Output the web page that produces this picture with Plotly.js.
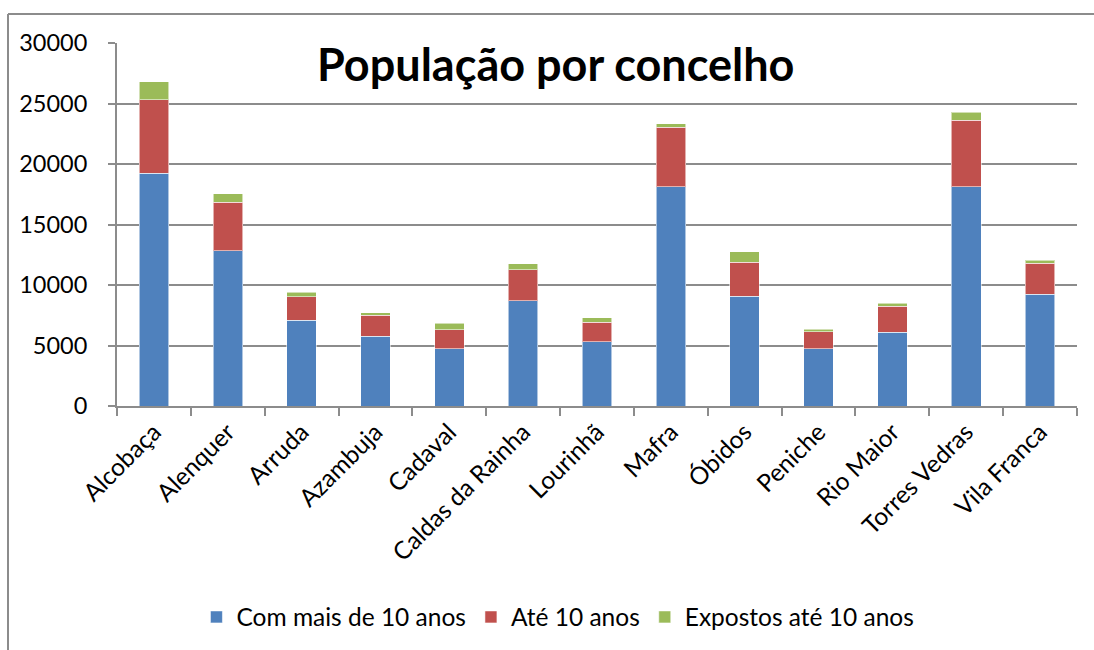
<!DOCTYPE html>
<html>
<head>
<meta charset="utf-8">
<script src="https://cdn.plot.ly/plotly-3.0.1.min.js"></script>
<style>html,body{margin:0;padding:0;background:#fff;}#chart{width:1094px;height:650px;}</style>
</head>
<body>
<div id="chart"></div>
<script>
const categories = ["Alcobaça","Alenquer","Arruda","Azambuja","Cadaval","Caldas da Rainha","Lourinhã","Mafra","Óbidos","Peniche","Rio Maior","Torres Vedras","Vila Franca"];
const comMais10 = [19250, 12850, 7090, 5750, 4750, 8700, 5300, 18130, 9090, 4750, 6100, 18100, 9250];
const ate10 = [6080, 3990, 1950, 1750, 1540, 2560, 1620, 4890, 2800, 1370, 2140, 5500, 2560];
const expostos10 = [1450, 720, 350, 190, 530, 500, 360, 300, 860, 220, 250, 660, 220];
const seriesNames = ["Com mais de 10 anos", "Até 10 anos", "Expostos até 10 anos"];
const yTicks = [0, 5000, 10000, 15000, 20000, 25000, 30000];

const FONT = "Lato, 'Open Sans', sans-serif";
const colors = ["#4F81BD", "#C0504D", "#9BBB59"];
const lineCol = "rgba(255,255,255,0.55)";

const traces = [comMais10, ate10, expostos10].map((vals, i) => ({
  type: "bar",
  x: categories,
  y: vals,
  name: seriesNames[i],
  marker: {color: colors[i], line: {color: lineCol, width: 1}},
  hoverinfo: "x+y+name"
}));

// plot area pixel geometry
const L = 117, R = 17, T = 43, B = 244, W = 1094, H = 650;
const pw = W - L - R, ph = H - T - B;
const px = v => (v - L) / pw;
const py = v => (H - B - v) / ph;
const grey = "#8c8c8c";

const layout = {
  width: W, height: H,
  margin: {l: L, r: R, t: T, b: B, pad: 0},
  paper_bgcolor: "#fff",
  plot_bgcolor: "#fff",
  barmode: "stack",
  bargap: 0.6,
  font: {family: FONT, size: 23, color: "#000"},
  title: {
    text: "<b>População por concelho</b>",
    font: {family: FONT, size: 45, color: "#000"},
    xref: "container", yref: "container",
    x: 0.508, y: 1 - 65 / H, xanchor: "center", yanchor: "middle"
  },
  xaxis: {
    type: "category",
    tickangle: -45,
    ticks: "outside", tickson: "boundaries", ticklen: 8, tickwidth: 2, tickcolor: grey,
    showline: true, linecolor: grey, linewidth: 2,
    showgrid: false,
    tickfont: {family: FONT, size: 24.5, color: "#000"},
    fixedrange: true
  },
  yaxis: {
    range: [0, 30000],
    tickvals: yTicks,
    ticktext: yTicks.map(String),
    ticks: "outside", ticklen: 7, tickwidth: 2, tickcolor: grey,
    ticklabelstandoff: 16,
    showline: true, linecolor: grey, linewidth: 2,
    showgrid: true, gridcolor: grey, gridwidth: 2,
    zeroline: false,
    tickfont: {family: FONT, size: 23.5, color: "#000"},
    fixedrange: true
  },
  legend: {
    orientation: "h",
    x: 0.51, xref: "container", xanchor: "center",
    y: 1 - 617 / H, yref: "container", yanchor: "middle",
    font: {family: FONT, size: 24.5, color: "#000"},
    traceorder: "normal",
    itemwidth: 30
  },
  shapes: [
    {type: "line", xref: "paper", yref: "paper", x0: px(8), x1: px(8), y0: py(14), y1: py(H + 5), line: {color: grey, width: 2}},
    {type: "line", xref: "paper", yref: "paper", x0: px(8), x1: px(W + 5), y0: py(14), y1: py(14), line: {color: grey, width: 2}}
  ],
  showlegend: true
};

Plotly.newPlot("chart", traces, layout, {displayModeBar: false, staticPlot: true});
</script>
</body>
</html>
